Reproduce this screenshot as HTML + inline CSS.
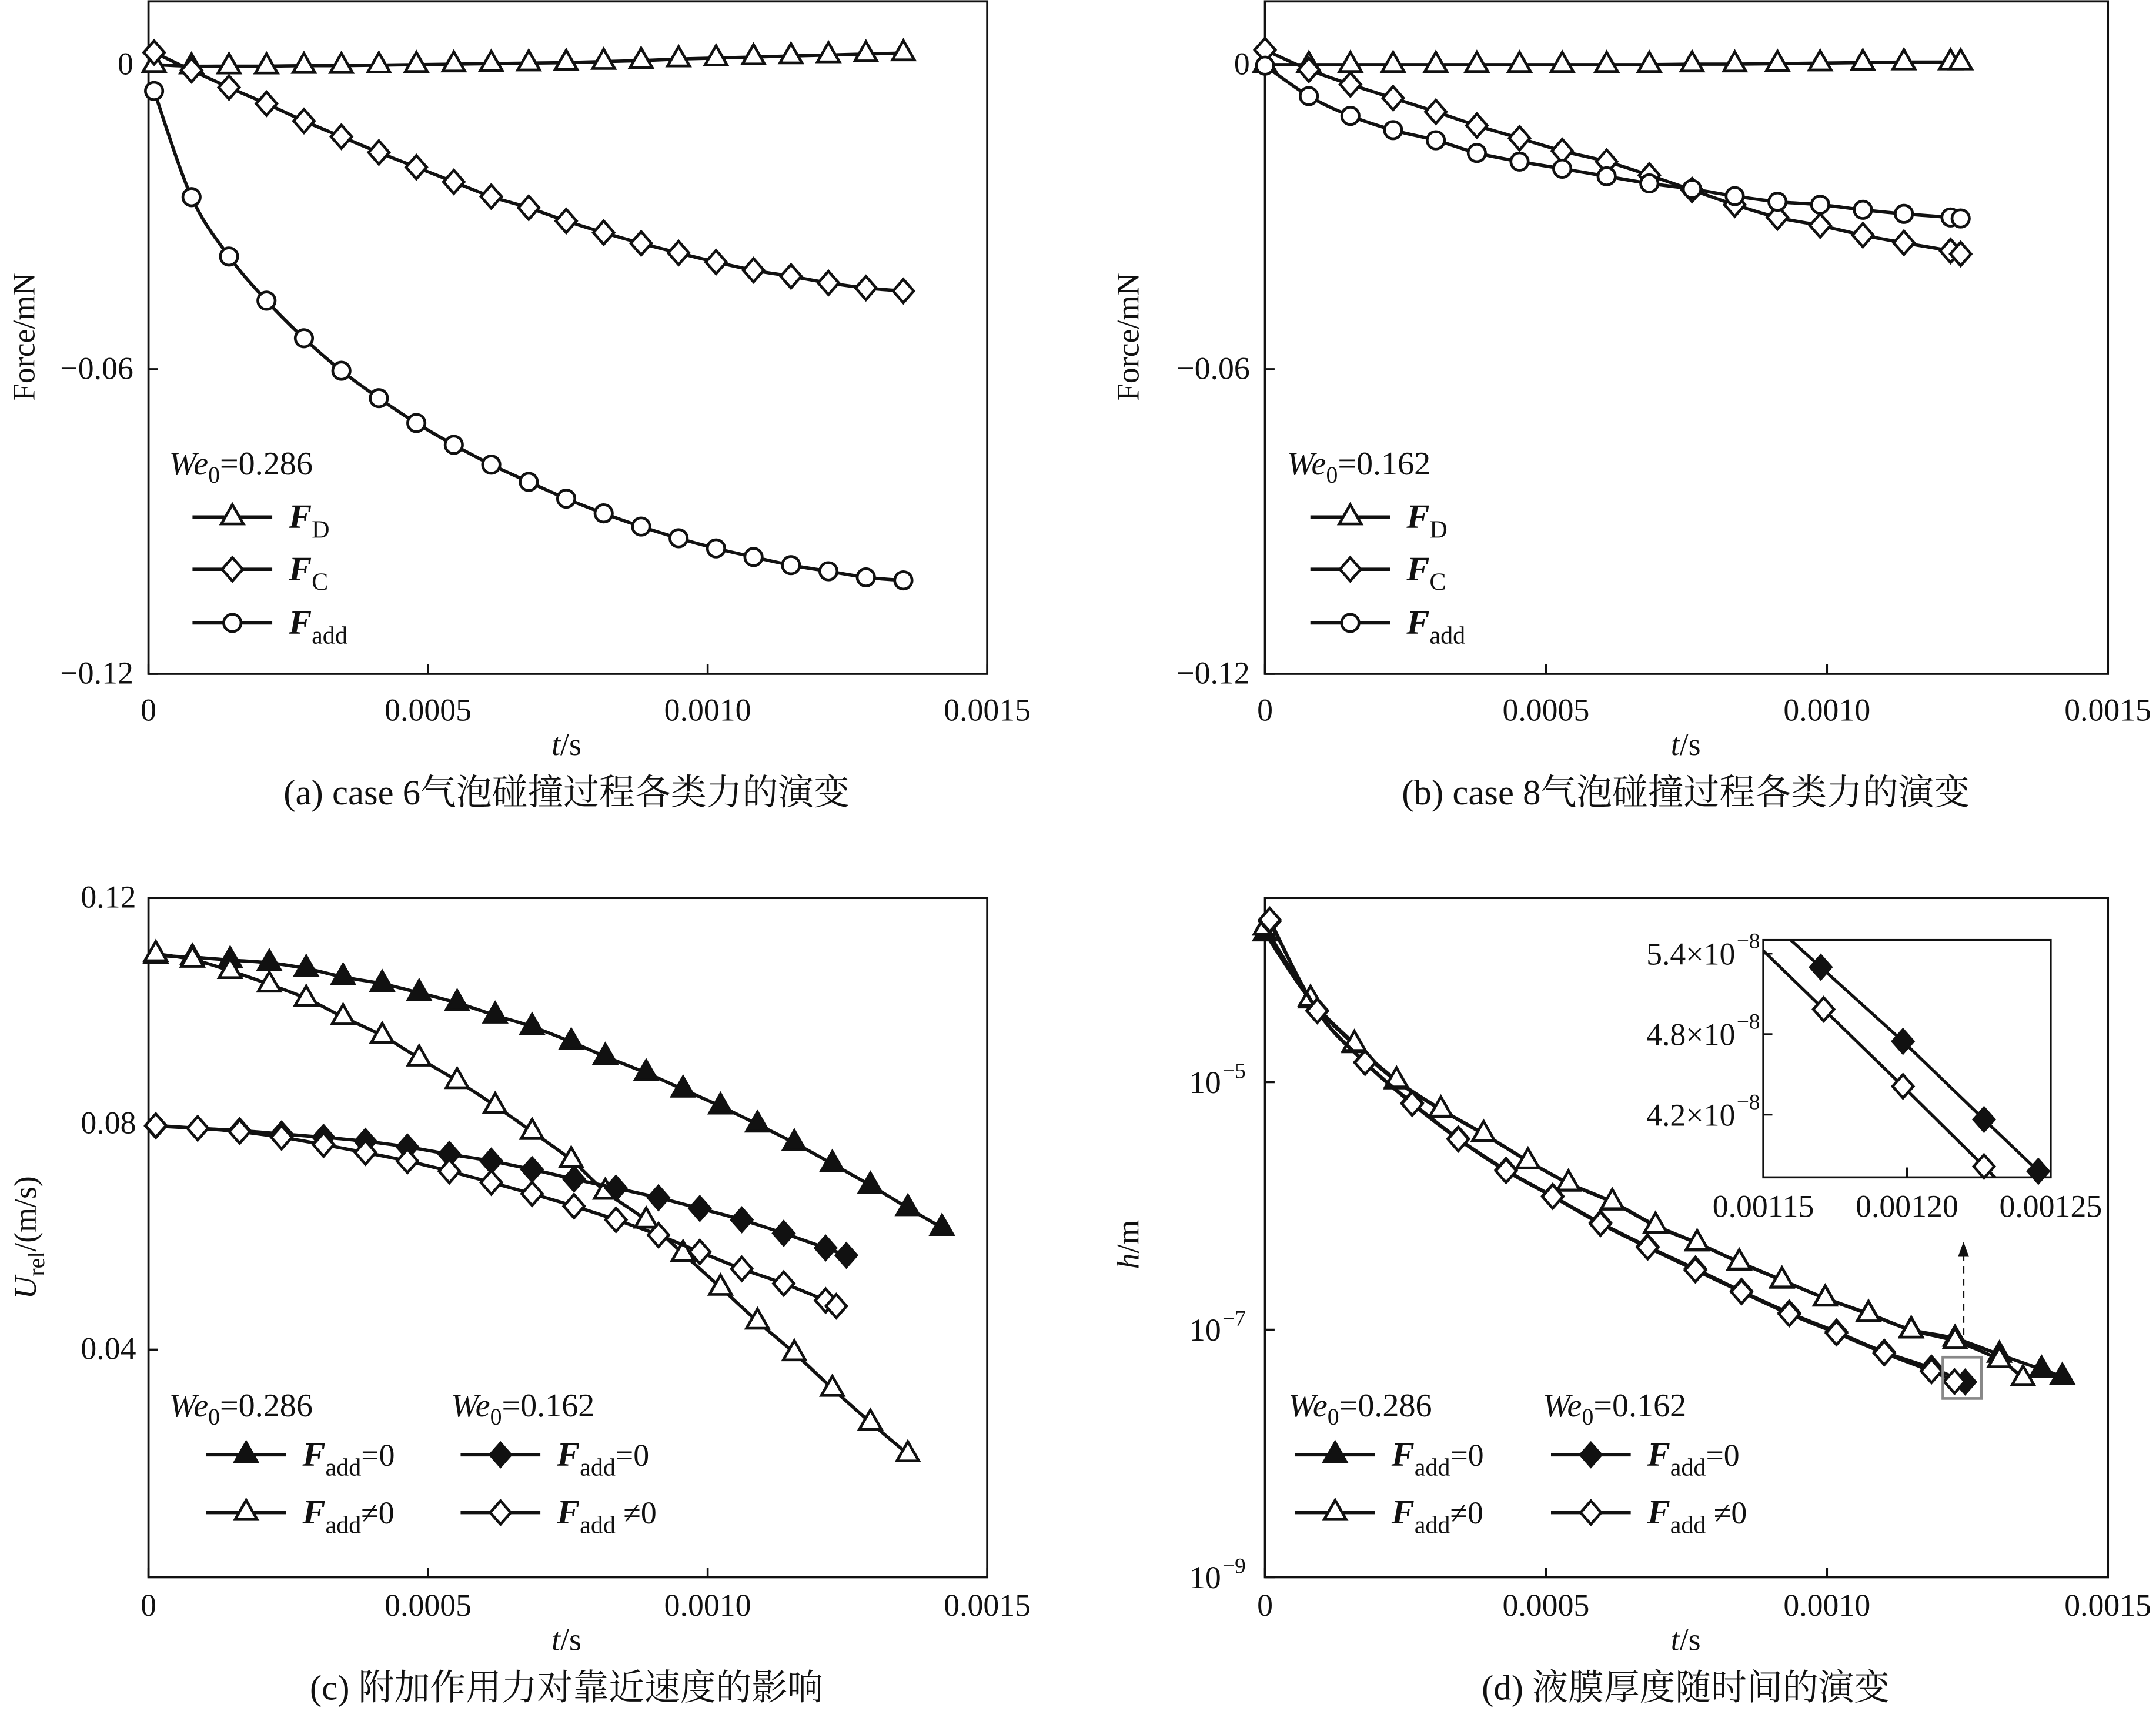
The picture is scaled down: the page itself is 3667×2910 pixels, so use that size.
<!DOCTYPE html>
<html><head><meta charset="utf-8">
<style>
html,body{margin:0;padding:0;background:#fff;}
svg{display:block;}
text{font-family:"Liberation Serif","Noto Serif CJK SC",serif;fill:#111;}
.tk{font-size:23px;}
.cap{font-size:26px;}
</style></head>
<body>
<svg id="fig" xmlns="http://www.w3.org/2000/svg" width="3667" height="2910" viewBox="0 0 1568 1244.3" preserveAspectRatio="none">
<rect x="0" y="0" width="1568" height="1244.3" fill="#fff"/>
<g id="layer"></g>
</svg>
<script>
// ---------- data: panel (a) ----------
const tA = [0.00001,0.000077,0.000144,0.000211,0.000278,0.000345,0.000412,0.000479,0.000546,0.000613,0.00068,0.000747,0.000814,0.000881,0.000948,0.001015,0.001082,0.001149,0.001216,0.001283,0.00135];
const aFD = [0,-0.0003,-0.0003,-0.0003,-0.0002,-0.0002,-0.0001,0,0.0001,0.0002,0.0003,0.0004,0.0006,0.0008,0.0011,0.0013,0.0015,0.0017,0.0019,0.0021,0.0023];
const aFC = [0.0024,-0.0011,-0.0045,-0.0077,-0.0111,-0.0142,-0.0173,-0.0202,-0.0231,-0.0260,-0.0282,-0.0308,-0.0331,-0.0352,-0.0371,-0.0389,-0.0405,-0.0417,-0.0430,-0.0440,-0.0446];
const aFadd = [-0.0052,-0.0261,-0.0378,-0.0465,-0.0539,-0.0603,-0.0657,-0.0706,-0.0749,-0.0788,-0.0822,-0.0855,-0.0884,-0.0910,-0.0933,-0.0953,-0.0970,-0.0986,-0.0998,-0.1010,-0.1016];
// ---------- data: panel (b) ----------
const tB = [0,0.000078,0.000152,0.000228,0.000304,0.000377,0.000453,0.000529,0.000608,0.000684,0.00076,0.000836,0.000912,0.000988,0.001064,0.001137,0.00122,0.001238];
const bFD = [0,0,0,0,0,0,0,0,0,0,0.0001,0.0001,0.0002,0.0003,0.0004,0.0005,0.0005,0.0005];
const bFC = [0.0029,-0.0010,-0.0039,-0.0066,-0.0093,-0.0120,-0.0145,-0.0170,-0.0191,-0.0218,-0.0247,-0.0276,-0.0301,-0.0317,-0.0336,-0.0351,-0.0367,-0.0373];
const bFadd = [-0.0002,-0.0062,-0.0101,-0.0129,-0.0149,-0.0174,-0.0191,-0.0205,-0.0220,-0.0234,-0.0245,-0.0259,-0.0270,-0.0276,-0.0286,-0.0294,-0.0301,-0.0303];
// ---------- data: panel (c) ----------
const tCtri = [0.000013,0.0000786,0.000146,0.000216,0.000282,0.000348,0.000418,0.000484,0.000552,0.00062,0.000686,0.000756,0.000817,0.00089,0.000956,0.001023,0.001089,0.001155,0.001223,0.001291,0.001358,0.001419];
const cTriFilled = [0.1098,0.1095,0.1090,0.1085,0.1075,0.1060,0.1048,0.1032,0.1014,0.0992,0.0972,0.0945,0.0919,0.0890,0.0861,0.0831,0.0799,0.0766,0.0729,0.0691,0.0651,0.0616];
const cTriOpen = [0.1101,0.1091,0.1071,0.1047,0.1022,0.0989,0.0956,0.0916,0.0876,0.0832,0.0786,0.0736,0.0680,0.0629,0.0570,0.0510,0.0450,0.0394,0.0331,0.0271,0.0215];
const tCdiaFilled = [0.000013,0.000088,0.000163,0.000238,0.000313,0.000388,0.000463,0.000538,0.000613,0.000686,0.000761,0.000836,0.000912,0.000986,0.001061,0.001136,0.001211,0.001248];
const cDiaFilled = [0.0796,0.0792,0.0788,0.0782,0.0776,0.0769,0.0759,0.0746,0.0734,0.0719,0.0702,0.0686,0.0669,0.0650,0.0630,0.0606,0.0580,0.0567];
const tCdiaOpen = [0.000013,0.000088,0.000163,0.000238,0.000313,0.000388,0.000463,0.000538,0.000613,0.000686,0.000761,0.000836,0.000912,0.000986,0.001061,0.001136,0.001211,0.00123];
const cDiaOpen = [0.0797,0.0792,0.0786,0.0776,0.0763,0.0749,0.0734,0.0716,0.0696,0.0676,0.0654,0.0630,0.0603,0.0573,0.0543,0.0517,0.0487,0.0477];
// ---------- data: panel (d) ----------
const tDtriOpen = [0,0.000081,0.000159,0.000234,0.000313,0.000389,0.000468,0.00054,0.000618,0.000695,0.000769,0.000844,0.00092,0.000997,0.001074,0.00115,0.001228,0.001307,0.001349];
const dTriOpen = [1.78e-4,4.75e-5,2.05e-5,1.04e-5,6.05e-6,3.83e-6,2.31e-6,1.53e-6,1.08e-6,6.97e-7,5.04e-7,3.52e-7,2.52e-7,1.79e-7,1.34e-7,9.9e-8,8.1e-8,5.7e-8,4.06e-8];
const tDtriFilled = [0,0.000081,0.000159,0.000234,0.000313,0.000389,0.000468,0.00054,0.000618,0.000695,0.000769,0.000844,0.00092,0.000997,0.001074,0.00115,0.001228,0.001307,0.001382,0.001419];
const dTriFilled = [1.6e-4,4.6e-5,2.0e-5,1.02e-5,6.0e-6,3.8e-6,2.3e-6,1.52e-6,1.07e-6,6.9e-7,5.0e-7,3.5e-7,2.5e-7,1.8e-7,1.35e-7,1.0e-7,8.5e-8,6.3e-8,4.78e-8,4.18e-8];
const tDdiaOpen = [0.0000085,0.000093,0.000178,0.000262,0.000344,0.000429,0.000512,0.000597,0.000681,0.000766,0.000848,0.000933,0.001017,0.001102,0.001186,0.001227];
const dDiaOpen = [2.05e-4,3.76e-5,1.44e-5,6.7e-6,3.46e-6,1.92e-6,1.19e-6,7.18e-7,4.63e-7,3.03e-7,2.02e-7,1.34e-7,9.4e-8,6.47e-8,4.63e-8,3.81e-8];
const tDdiaFilled = [0.0000085,0.000093,0.000178,0.000262,0.000344,0.000429,0.000512,0.000597,0.000681,0.000766,0.000848,0.000933,0.001017,0.001102,0.001186,0.001246];
const dDiaFilled = [2.0e-4,3.8e-5,1.45e-5,6.8e-6,3.5e-6,1.95e-6,1.2e-6,7.3e-7,4.7e-7,3.1e-7,2.05e-7,1.37e-7,9.6e-8,6.6e-8,4.9e-8,3.78e-8];
// inset
const tInFilled = [0.00117,0.0011986,0.0012268,0.0012457];
const inFilled = [5.299e-8,4.746e-8,4.164e-8,3.778e-8];
const tInOpen = [0.001171,0.0011986,0.0012268];
const inOpen = [4.985e-8,4.411e-8,3.814e-8];
// ticks
const xTickVals = [0,0.0005,0.001,0.0015];
const xTickLabels = ["0","0.0005","0.0010","0.0015"];
const forceTicks = [0,-0.06,-0.12];
const forceTickLabels = ["0","\u22120.06","\u22120.12"];
const uTicks = [0.12,0.08,0.04];
const uTickLabels = ["0.12","0.08","0.04"];
const hTickExp = [-5,-7,-9];
const inXTicks = [0.00115,0.0012,0.00125];
const inXLabels = ["0.00115","0.00120","0.00125"];
const inYTicks = [5.4e-8,4.8e-8,4.2e-8];
const inYLabels = ["5.4","4.8","4.2"];

const NS = "http://www.w3.org/2000/svg";
const L = document.getElementById('layer');
function el(tag, attrs, parent){ const e=document.createElementNS(NS,tag); for(const k in attrs) e.setAttribute(k,attrs[k]); (parent||L).appendChild(e); return e; }

// axis functions
const xa = t => 108 + t/0.0015*610;
const xb = t => 920 + t/0.0015*613;
const yF = v => 47 + (-v)/0.12*443;
const yU = v => 653 + (0.12 - v)*4106;
const yH = h => 787 + (-5 - Math.log10(h))*90;
const xIn = t => 1282.4 + (t-0.00115)/0.0001*209;
const yIn = h => 693.5 + (5.4e-8 - h)/1e-8*97.6;

function smoothPath(P){
  let d = 'M'+P[0][0].toFixed(2)+','+P[0][1].toFixed(2);
  for(let i=0;i<P.length-1;i++){
    const p0=P[Math.max(0,i-1)], p1=P[i], p2=P[i+1], p3=P[Math.min(P.length-1,i+2)];
    const c1=[p1[0]+(p2[0]-p0[0])/6, p1[1]+(p2[1]-p0[1])/6];
    const c2=[p2[0]-(p3[0]-p1[0])/6, p2[1]-(p3[1]-p1[1])/6];
    d+=' C'+c1[0].toFixed(2)+','+c1[1].toFixed(2)+' '+c2[0].toFixed(2)+','+c2[1].toFixed(2)+' '+p2[0].toFixed(2)+','+p2[1].toFixed(2);
  }
  return d;
}
function marker(g, type, x, y){
  let m;
  if(type==='triO'||type==='triF'){
    m = el('polygon',{points:`${x},${y-9} ${x-8},${y+5} ${x+8},${y+5}`,fill:type==='triF'?'#111':'#fff',stroke:'#111','stroke-width':2},g);
  } else if(type==='diaO'||type==='diaF'){
    m = el('polygon',{points:`${x},${y-8.5} ${x+7.5},${y} ${x},${y+8.5} ${x-7.5},${y}`,fill:type==='diaF'?'#111':'#fff',stroke:'#111','stroke-width':2},g);
  } else {
    m = el('circle',{cx:x,cy:y,r:6.3,fill:'#fff',stroke:'#111','stroke-width':2},g);
  }
  
  
}
function series(name, ts, vs, fx, fy, type){
  const g = el('g',{});
  
  
  const P = vs.map((v,i)=>[fx(ts[i]),fy(v)]);
  const pl = el('path',{d:smoothPath(P),fill:'none',stroke:'#111','stroke-width':2.4,'stroke-linejoin':'round'},g);
  
  
  vs.forEach((v,i)=>marker(g,type,fx(ts[i]),fy(v)));
}
function txt(s, x, y, opts, parent){
  const t = el('text',Object.assign({x:x,y:y},opts||{}),parent);
  t.textContent = s; return t;
}
function frame(name,x0,y0,x1,y1){
  const r = el('rect',{x:x0,y:y0,width:x1-x0,height:y1-y0,fill:'none',stroke:'#111','stroke-width':1.6});
  
  
}
function xAxis(name, fx, yb, labY){
  const g = el('g',{});
  
  
  xTickVals.forEach((v,i)=>{
    el('line',{x1:fx(v),y1:yb,x2:fx(v),y2:yb-7,stroke:'#111','stroke-width':1.5},g);
    const t = txt(xTickLabels[i], fx(v), labY, {'class':'tk','text-anchor':'middle'}, g);
    
    
  });
}
function yAxis(name, ticks, labels, fy, xl, labX){
  const g = el('g',{});
  
  
  ticks.forEach((v,i)=>{
    el('line',{x1:xl,y1:fy(v),x2:xl+7,y2:fy(v),stroke:'#111','stroke-width':1.5},g);
    const t = txt(labels[i], labX, fy(v)+7, {'class':'tk','text-anchor':'end'}, g);
    
    
  });
}
function legendF(g, x, y, sub, extra){
  const t = el('text',{x:x,y:y,'font-size':25},g);
  const a = el('tspan',{'font-weight':'bold','font-style':'italic'},t); a.textContent='F';
  const b = el('tspan',{'font-size':18,dy:7},t); b.textContent=sub;
  if(extra){ const c = el('tspan',{'font-size':23,dy:-7},t); c.textContent=extra; }
  return t;
}
function weLabel(g, x, y, val){
  const t = el('text',{x:x,y:y,'font-size':24},g);
  const a = el('tspan',{'font-style':'italic'},t); a.textContent='We';
  const b = el('tspan',{'font-size':17,dy:6},t); b.textContent='0';
  const c = el('tspan',{dy:-6},t); c.textContent='='+val;
}
function legRow(g, x, y, type, sub, extra){
  el('line',{x1:x,y1:y,x2:x+58,y2:y,stroke:'#111','stroke-width':2.4},g);
  marker(g,type,x+29,y);
  legendF(g, x+70, y+8, sub, extra);
}

// ---------- panel a ----------
frame('panel-a-frame',108,1,718,490);
xAxis('panel-a-x-axis', xa, 490, 524);
yAxis('panel-a-y-axis', forceTicks, forceTickLabels, yF, 108, 97);
series('series-a-FD', tA, aFD, xa, yF, 'triO');
series('series-a-FC', tA, aFC, xa, yF, 'diaO');
series('series-a-Fadd', tA, aFadd, xa, yF, 'circ');
(function(){ const g=el('g',{});  
 weLabel(g,123,345,'0.286'); legRow(g,140,376,'triO','D'); legRow(g,140,414,'diaO','C'); legRow(g,140,453,'circ','add'); })();
let t1 = txt('Force/mN',0,0,{'font-size':23,'text-anchor':'middle',transform:'translate(25,245) rotate(-90)'});  

// ---------- panel b ----------
frame('panel-b-frame',920,1,1533,490);
xAxis('panel-b-x-axis', xb, 490, 524);
yAxis('panel-b-y-axis', forceTicks, forceTickLabels, yF, 920, 909);
series('series-b-FD', tB, bFD, xb, yF, 'triO');
series('series-b-FC', tB, bFC, xb, yF, 'diaO');
series('series-b-Fadd', tB, bFadd, xb, yF, 'circ');
(function(){ const g=el('g',{});  
 weLabel(g,936,345,'0.162'); legRow(g,953,376,'triO','D'); legRow(g,953,414,'diaO','C'); legRow(g,953,453,'circ','add'); })();
let t2 = txt('Force/mN',0,0,{'font-size':23,'text-anchor':'middle',transform:'translate(828,245) rotate(-90)'});  

// ---------- panel c ----------
frame('panel-c-frame',108,653,718,1147);
xAxis('panel-c-x-axis', xa, 1147, 1175);
yAxis('panel-c-y-axis', uTicks, uTickLabels, yU, 108, 99);
series('series-c-286-fadd-zero', tCtri, cTriFilled, xa, yU, 'triF');
series('series-c-286-fadd-nonzero', tCtri, cTriOpen, xa, yU, 'triO');
series('series-c-162-fadd-zero', tCdiaFilled, cDiaFilled, xa, yU, 'diaF');
series('series-c-162-fadd-nonzero', tCdiaOpen, cDiaOpen, xa, yU, 'diaO');
(function(){ const g=el('g',{});  
 weLabel(g,123,1030,'0.286'); weLabel(g,328,1030,'0.162');
 legRow(g,150,1058,'triF','add','=0'); legRow(g,150,1100,'triO','add','\u22600');
 legRow(g,335,1058,'diaF','add','=0'); legRow(g,335,1100,'diaO','add',' \u22600'); })();
(function(){ const t=el('text',{'font-size':23,'text-anchor':'middle',transform:'translate(26,900) rotate(-90)'});
  
 const a=el('tspan',{'font-style':'italic'},t); a.textContent='U'; const b=el('tspan',{'font-size':17,dy:6},t); b.textContent='rel'; const c=el('tspan',{dy:-6},t); c.textContent='/(m/s)'; })();

// ---------- panel d ----------
frame('panel-d-frame',920,653,1533,1147);
xAxis('panel-d-x-axis', xb, 1147, 1175);
(function(){ const g=el('g',{});  
 hTickExp.forEach(e=>{ const y=yH(Math.pow(10,e)); el('line',{x1:920,y1:y,x2:927,y2:y,stroke:'#111','stroke-width':1.5},g);
  const t=el('text',{x:888,y:y+8,'font-size':23,'text-anchor':'end'},g); t.textContent='10';
   
  const s=el('text',{x:889,y:y-3,'font-size':16},g); s.textContent='\u2212'+(-e); }); })();
series('series-d-286-fadd-zero', tDtriFilled, dTriFilled, xb, yH, 'triF');
series('series-d-286-fadd-nonzero', tDtriOpen, dTriOpen, xb, yH, 'triO');
series('series-d-162-fadd-zero', tDdiaFilled, dDiaFilled, xb, yH, 'diaF');
series('series-d-162-fadd-nonzero', tDdiaOpen, dDiaOpen, xb, yH, 'diaO');
(function(){ const g=el('g',{});  
 weLabel(g,937,1030,'0.286'); weLabel(g,1122,1030,'0.162');
 legRow(g,942,1058,'triF','add','=0'); legRow(g,942,1100,'triO','add','\u22600');
 legRow(g,1128,1058,'diaF','add','=0'); legRow(g,1128,1100,'diaO','add',' \u22600'); })();
(function(){ const t=el('text',{'font-size':23,'text-anchor':'middle',transform:'translate(828,905) rotate(-90)'});
  
 const a=el('tspan',{'font-style':'italic'},t); a.textContent='h'; const b=el('tspan',{},t); b.textContent='/m'; })();
// zoom box + arrow
(function(){ const g=el('g',{});  
 el('rect',{x:1413,y:987,width:28,height:30,fill:'none',stroke:'#888','stroke-width':2},g);
 el('line',{x1:1428,y1:980,x2:1428,y2:912,stroke:'#111','stroke-width':1.3,'stroke-dasharray':'5,4'},g);
 el('polygon',{points:'1428,903 1424,914 1432,914',fill:'#111'},g); })();
// inset
(function(){
 const g=el('g',{});  
 el('rect',{x:1282.4,y:683.6,width:209,height:172.6,fill:'#fff',stroke:'#111','stroke-width':1.5},g);
 const defs=el('defs',{},g); const cp=el('clipPath',{id:'inclip'},defs); el('rect',{x:1282.4,y:683.6,width:209,height:172.6},cp);
 inYTicks.forEach((v,i)=>{ const y=yIn(v); el('line',{x1:1282.4,y1:y,x2:1289,y2:y,stroke:'#111','stroke-width':1.3},g);
  const t=el('text',{x:1262,y:y+8,'font-size':23,'text-anchor':'end'},g); t.textContent=inYLabels[i]+'\u00d710';
   
  const s=el('text',{x:1263,y:y-4,'font-size':16},g); s.textContent='\u22128'; });
 inXTicks.forEach((v,i)=>{ const x=xIn(v); el('line',{x1:x,y1:856.2,x2:x,y2:849,stroke:'#111','stroke-width':1.3},g);
  const t=el('text',{x:x,y:885,'font-size':23,'text-anchor':'middle'},g); t.textContent=inXLabels[i];
    });
 [[tInFilled,inFilled],[tInOpen,inOpen]].forEach(([ts,vs])=>{
  const n=ts.length, s0=(vs[1]-vs[0])/(ts[1]-ts[0]), s1=(vs[n-1]-vs[n-2])/(ts[n-1]-ts[n-2]);
  const pts=[[ts[0]-0.00004, vs[0]-s0*0.00004]].concat(ts.map((t,i)=>[t,vs[i]])).concat([[ts[n-1]+0.00004, vs[n-1]+s1*0.00004]]);
  el('polyline',{points:pts.map(p=>xIn(p[0]).toFixed(2)+','+yIn(p[1]).toFixed(2)).join(' '),fill:'none',stroke:'#111','stroke-width':2.2,'clip-path':'url(#inclip)'},g); });
 tInFilled.forEach((t,i)=>marker(g,'diaF',xIn(t),yIn(inFilled[i])));
 tInOpen.forEach((t,i)=>marker(g,'diaO',xIn(t),yIn(inOpen[i])));
})();

// x titles and captions
[[412,549],[1226,549],[412,1200],[1226,1200]].forEach((p,i)=>{
 const t=el('text',{x:p[0],y:p[1],'font-size':23,'text-anchor':'middle'});
  
 const a=el('tspan',{'font-style':'italic'},t); a.textContent='t'; const b=el('tspan',{},t); b.textContent='/s'; });
const caps=[["(a) case 6气泡碰撞过程各类力的演变",412,585],["(b) case 8气泡碰撞过程各类力的演变",1226,585],["(c) 附加作用力对靠近速度的影响",412,1236],["(d) 液膜厚度随时间的演变",1226,1236]];
caps.forEach(c=>{ const t=txt(c[0],c[1],c[2],{'class':'cap','text-anchor':'middle'});   });
</script>
</body></html>
